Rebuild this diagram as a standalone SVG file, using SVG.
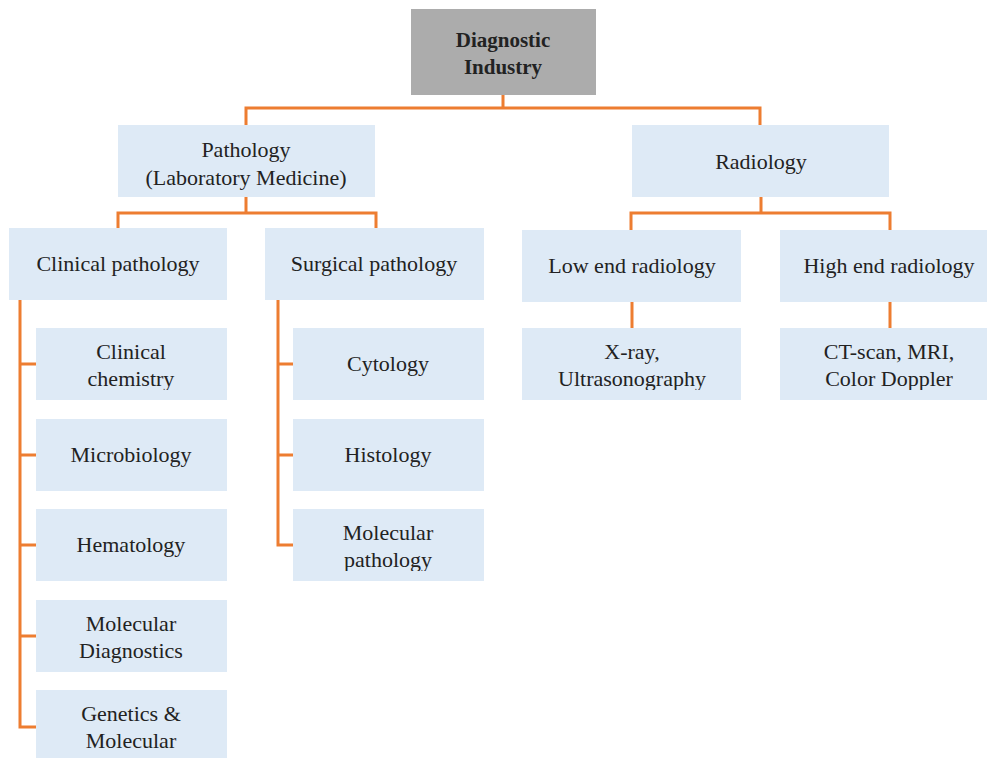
<svg xmlns="http://www.w3.org/2000/svg" width="987" height="758" viewBox="0 0 987 758">
<style>
.box{fill:#deeaf6}
.top{fill:#acacac}
.t{font-family:"Liberation Serif",serif;font-size:22px;fill:#222;text-anchor:middle}
.b{font-weight:bold;font-size:21px}
.c{fill:none;stroke:#ed7d31;stroke-width:3}
</style>
<defs>
<clipPath id="c1"><rect x="0" y="328" width="987" height="62"/></clipPath>
<clipPath id="c2"><rect x="0" y="509" width="987" height="62"/></clipPath>
</defs>
<rect width="987" height="758" fill="#fff"/>
<g id="connectors">
<path class="c" d="M503 95V108M246 125V108H760V125"/>
<path class="c" d="M246 197V213M118 228V213H376V228"/>
<path class="c" d="M761 197V213M631 230V213H890V230"/>
<path class="c" d="M632 302V328"/>
<path class="c" d="M890 302V328"/>
<path class="c" d="M20 300V727H36M20 364H36M20 455H36M20 545H36M20 636H36"/>
<path class="c" d="M278 300V545H293M278 364H293M278 455H293"/>
</g>
<g id="n-diag"><rect class="top" x="411" y="9" width="185" height="86"/><text class="t b" x="503" y="47">Diagnostic</text><text class="t b" x="503" y="74">Industry</text></g>
<g id="n-path"><rect class="box" x="118" y="125" width="257" height="72"/><text class="t" x="246" y="157">Pathology</text><text class="t" x="246" y="185">(Laboratory Medicine)</text></g>
<g id="n-rad"><rect class="box" x="632" y="125" width="257" height="72"/><text class="t" x="761" y="169">Radiology</text></g>
<g id="n-clin"><rect class="box" x="9" y="228" width="218" height="72"/><text class="t" x="118" y="271">Clinical pathology</text></g>
<g id="n-surg"><rect class="box" x="265" y="228" width="219" height="72"/><text class="t" x="374" y="271">Surgical pathology</text></g>
<g id="n-low"><rect class="box" x="522" y="230" width="219" height="72"/><text class="t" x="632" y="273">Low end radiology</text></g>
<g id="n-high"><rect class="box" x="780" y="230" width="219" height="72"/><text class="t" x="889" y="273">High end radiology</text></g>
<g id="n-xray"><rect class="box" x="522" y="328" width="219" height="72"/><g clip-path="url(#c1)"><text class="t" x="632" y="359">X-ray,</text><text class="t" x="632" y="386">Ultrasonography</text></g></g>
<g id="n-ct"><rect class="box" x="780" y="328" width="219" height="72"/><g clip-path="url(#c1)"><text class="t" x="889" y="359">CT-scan, MRI,</text><text class="t" x="889" y="386">Color Doppler</text></g></g>
<g id="n-chem"><rect class="box" x="36" y="328" width="191" height="72"/><g clip-path="url(#c1)"><text class="t" x="131" y="359">Clinical</text><text class="t" x="131" y="386">chemistry</text></g></g>
<g id="n-micro"><rect class="box" x="36" y="419" width="191" height="72"/><text class="t" x="131" y="462">Microbiology</text></g>
<g id="n-hema"><rect class="box" x="36" y="509" width="191" height="72"/><text class="t" x="131" y="552">Hematology</text></g>
<g id="n-moldx"><rect class="box" x="36" y="600" width="191" height="72"/><text class="t" x="131" y="631">Molecular</text><text class="t" x="131" y="658">Diagnostics</text></g>
<g id="n-gen"><rect class="box" x="36" y="690" width="191" height="80"/><text class="t" x="131" y="721">Genetics &amp;</text><text class="t" x="131" y="748">Molecular</text></g>
<g id="n-cyto"><rect class="box" x="293" y="328" width="191" height="72"/><text class="t" x="388" y="371">Cytology</text></g>
<g id="n-hist"><rect class="box" x="293" y="419" width="191" height="72"/><text class="t" x="388" y="462">Histology</text></g>
<g id="n-molp"><rect class="box" x="293" y="509" width="191" height="72"/><g clip-path="url(#c2)"><text class="t" x="388" y="540">Molecular</text><text class="t" x="388" y="567">pathology</text></g></g>
</svg>
